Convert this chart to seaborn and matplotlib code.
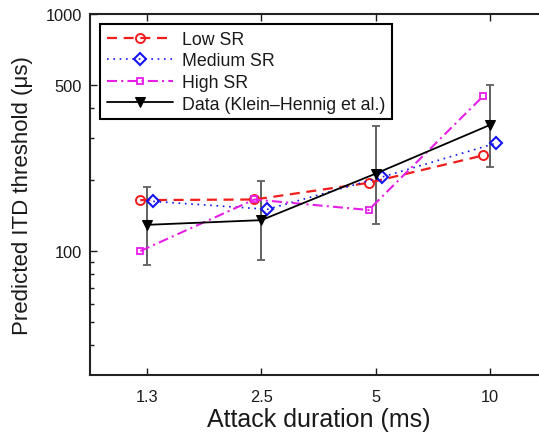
import numpy as np
import pandas as pd
import matplotlib
matplotlib.use("Agg")
import matplotlib.pyplot as plt
import seaborn as sns
from matplotlib.ticker import FixedLocator, FixedFormatter, NullFormatter

# ---- data ----
durations = ["1.3", "2.5", "5", "10"]
low_sr = [164, 165, 194, 253]
medium_sr = [162, 150, 205, 285]
high_sr = [100, 165, 149, 449]
data_mean = [129, 135, 212, 340]
data_lower = [87, 92, 130, 226]
data_upper = [187, 198, 336, 503]

yticks_major = [100, 500, 1000]
yticks_minor = [40, 50, 60, 70, 80, 90, 200, 300, 400]

sns.set_style("ticks")
plt.rcParams["font.family"] = ["Liberation Sans", "DejaVu Sans"]
plt.rcParams["text.color"] = "#1a1a1a"
plt.rcParams["axes.labelcolor"] = "#1a1a1a"
plt.rcParams["xtick.color"] = "#1a1a1a"
plt.rcParams["ytick.color"] = "#1a1a1a"

fig = plt.figure(figsize=(5.39, 4.35), dpi=100)
W, H = 539, 435
ax_left, ax_top, ax_bottom, ax_w = 90, 15, 376, 456.8
ax = fig.add_axes([ax_left / W, 1 - ax_bottom / H, ax_w / W, (ax_bottom - ax_top) / H])

pos = np.arange(len(durations))
off = 0.06

df_low = pd.DataFrame({"x": pos - off, "y": low_sr})
df_med = pd.DataFrame({"x": pos + off * 0.9, "y": medium_sr})
df_high = pd.DataFrame({"x": pos - off, "y": high_sr})
df_data = pd.DataFrame({"x": pos, "y": data_mean})

ax.errorbar(pos, data_mean,
            yerr=[np.array(data_mean) - np.array(data_lower),
                  np.array(data_upper) - np.array(data_mean)],
            fmt="none", ecolor="#606060", elinewidth=1.4, capsize=3.2,
            capthick=1.3, zorder=2)

sns.lineplot(data=df_low, x="x", y="y", ax=ax, color="#f21c1c", lw=1.6,
             marker="o", markersize=6.5, markerfacecolor="none",
             markeredgecolor="#f21c1c", markeredgewidth=1.4,
             label="Low SR", zorder=3)
ax.lines[-1].set_dashes([4.5, 3])
sns.lineplot(data=df_med, x="x", y="y", ax=ax, color="#1414f0", lw=1.2,
             marker="D", markersize=6, markerfacecolor="none",
             markeredgecolor="#1414f0", markeredgewidth=1.5,
             label="Medium SR", zorder=3)
ax.lines[-1].set_dashes([1, 2.8])
sns.lineplot(data=df_high, x="x", y="y", ax=ax, color="#e61ee6", lw=1.5,
             marker="s", markersize=4.8, markerfacecolor="none",
             markeredgecolor="#e61ee6", markeredgewidth=1.3,
             label="High SR", zorder=3)
ax.lines[-1].set_dashes([4.8, 2, 1, 2])
sns.lineplot(data=df_data, x="x", y="y", ax=ax, color="black", lw=1.3,
             marker="v", markersize=7.5, markerfacecolor="black",
             markeredgecolor="black", label="Data (Klein\u2013Hennig et al.)",
             zorder=4)

ax.set_yscale("log")
ax.set_ylim(30, 1000)
ax.set_xlim(-0.5, 3.5)
ax.yaxis.set_major_locator(FixedLocator(yticks_major))
ax.yaxis.set_major_formatter(FixedFormatter([str(v) for v in yticks_major]))
ax.yaxis.set_minor_locator(FixedLocator(yticks_minor))
ax.yaxis.set_minor_formatter(NullFormatter())
ax.set_xticks(pos)
ax.set_xticklabels(durations)

ax.tick_params(axis="both", which="both", direction="in", width=1.0,
               labelsize=11.8, top=True, right=False)
ax.tick_params(axis="both", which="major", length=5)
ax.tick_params(axis="y", which="minor", length=3)
ax.tick_params(axis="x", pad=10)
ax.tick_params(axis="y", pad=6)

for s in ["left", "bottom", "top", "right"]:
    ax.spines[s].set_visible(True)
    ax.spines[s].set_linewidth(1.5)
    ax.spines[s].set_color("#222222")

ax.set_xlabel("Attack duration (ms)", fontsize=18, labelpad=2)
ax.set_ylabel("Predicted ITD threshold (\u03bcs)", fontsize=16, labelpad=9)

leg = ax.legend(loc="upper left", bbox_to_anchor=(0.0219, 0.9723),
                borderaxespad=0, fontsize=12.8, handlelength=3.7,
                labelspacing=0.26, borderpad=0.38, handletextpad=0.55,
                fancybox=False, framealpha=1)
leg.get_frame().set_edgecolor("black")
leg.get_frame().set_linewidth(1.5)

fig.savefig("out.png", dpi=100)
